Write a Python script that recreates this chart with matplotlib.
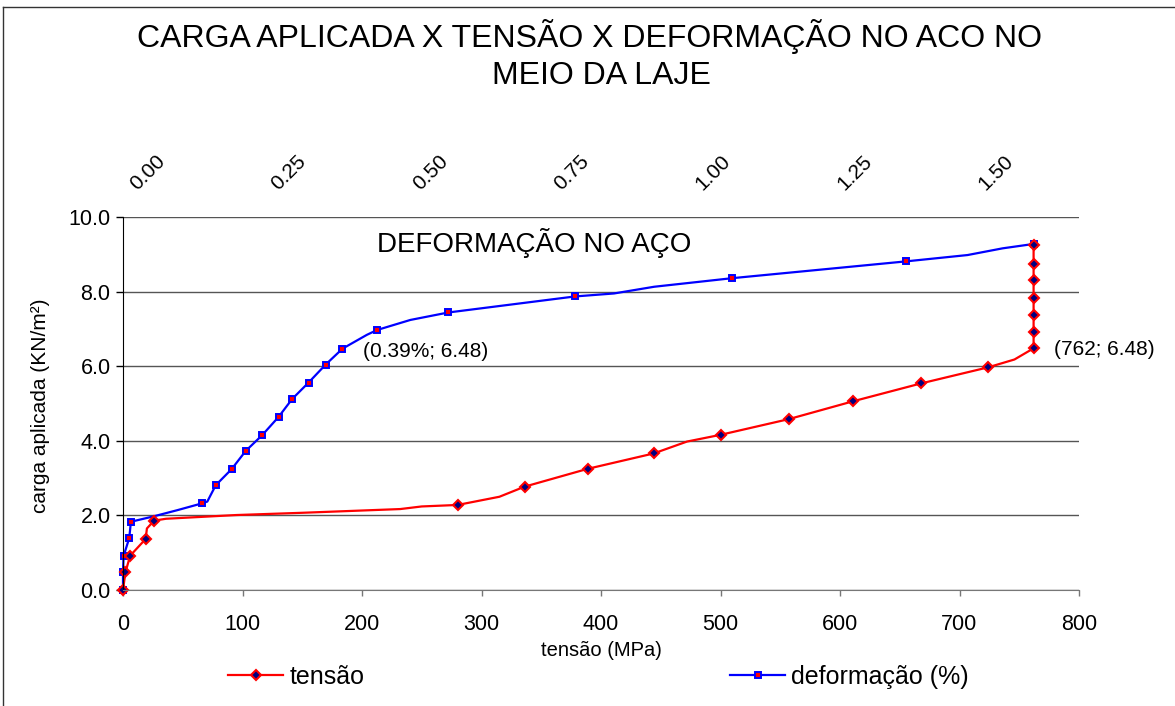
import matplotlib
matplotlib.use("Agg")
import matplotlib.pyplot as plt
from matplotlib.lines import Line2D
import numpy as np

plt.rcParams['font.family'] = ['Liberation Sans', 'DejaVu Sans']

# tensao (MPa) x carga aplicada (kN/m2) -- red series, markers only on measured points
tensao = [0, 2, 6, 19, 20, 26, 36, 95, 150, 232, 250, 280, 315, 336, 389, 444, 472,
          500, 557, 611, 668, 724, 746, 762, 762, 762, 762, 762, 762, 762]
carga_t = [0.00, 0.47, 0.92, 1.37, 1.65, 1.86, 1.91, 2.01, 2.07, 2.17, 2.24, 2.28, 2.50,
           2.77, 3.25, 3.66, 3.98, 4.16, 4.58, 5.06, 5.54, 5.97, 6.18, 6.48, 6.93, 7.36,
           7.84, 8.31, 8.75, 9.25]
tensao_marked = [0, 1, 2, 3, 5, 11, 13, 14, 15, 17, 18, 19, 20, 21, 23, 24, 25, 26, 27, 28, 29]

# deformacao (%) x carga aplicada -- blue series
deform = [0.000, 0.000, 0.001, 0.011, 0.014, 0.053, 0.096, 0.139, 0.149, 0.164, 0.192,
          0.217, 0.246, 0.275, 0.299, 0.328, 0.358, 0.388, 0.431, 0.449, 0.508, 0.575,
          0.799, 0.868, 0.939, 1.077, 1.384, 1.493, 1.555, 1.611]
carga_d = [0.00, 0.47, 0.91, 1.39, 1.83, 1.97, 2.14, 2.32, 2.37, 2.81, 3.24, 3.73, 4.15,
           4.64, 5.12, 5.56, 6.04, 6.47, 6.84, 6.97, 7.24, 7.44, 7.87, 7.95, 8.13, 8.36,
           8.81, 8.98, 9.16, 9.28]
deform_marked = [0, 1, 2, 3, 4, 7, 9, 10, 11, 12, 13, 14, 15, 16, 17, 19, 21, 22, 25, 26, 29]

x_ticks = [0, 100, 200, 300, 400, 500, 600, 700, 800]
y_ticks = [0, 2, 4, 6, 8, 10]
def_ticks = [0.00, 0.25, 0.50, 0.75, 1.00, 1.25, 1.50]

W, H = 1175, 706
fig = plt.figure(figsize=(W / 100, H / 100), dpi=100)
fig.patch.set_facecolor('white')
ax = fig.add_axes([123 / W, 1 - 590 / H, 956 / W, 373 / H])
ax2 = ax.twiny()

# blue series + grid underneath, red series on top
ax2.set_zorder(1)
ax.set_zorder(2)
ax.patch.set_visible(False)

ax2.plot(deform, carga_d, color='#0000FF', lw=1.6, marker='s', ms=4.8,
         mfc='#FF0000', mec='#0000FF', mew=1.4, markevery=deform_marked, clip_on=False)
ax.plot(tensao, carga_t, color='#FF0000', lw=1.6, marker='D', ms=5.2,
        mfc='#000080', mec='#FF0000', mew=1.5, markevery=tensao_marked, clip_on=False)

ax.set_xlim(0, 800)
ax.set_ylim(0, 10)
ax2.set_xlim(0, 1.69)
ax.set_xticks(x_ticks)
ax.set_yticks(y_ticks)
ax.set_yticklabels([f'{v:.1f}' for v in y_ticks])

ax2.yaxis.set_visible(True)
ax2.tick_params(axis='y', left=False, right=False, labelleft=False, labelright=False)
ax2.grid(axis='y', color='#555555', lw=1)
ax2.set_xticks([])
for s in ax2.spines.values():
    s.set_visible(False)

for s in ['top', 'right']:
    ax.spines[s].set_visible(False)
ax.spines['left'].set_color('black')
ax.spines['bottom'].set_color('#777777')
ax.tick_params(axis='y', direction='out', length=5, width=1, color='black',
               labelsize=15.5, pad=4)
ax.tick_params(axis='x', direction='out', length=4, width=1, color='#777777',
               labelsize=15.5, pad=13)

# top axis labels (deformacao)
for v in def_ticks:
    ax2.annotate(f'{v:.2f}', xy=(v, 1), xycoords=('data', 'axes fraction'),
                 xytext=(10, 19), textcoords='offset points', rotation=45,
                 rotation_mode='anchor', ha='left', va='baseline', fontsize=15,
                 annotation_clip=False)

ax.set_ylabel('carga aplicada (KN/m²)', fontsize=15)
ax.yaxis.set_label_coords(-0.076, 0.493)
ax.set_xlabel('tensão (MPa)', fontsize=14.5)
ax.xaxis.set_label_coords(0.5, -0.136)

ax.text(0.2657, 0.906, 'DEFORMAÇÃO NO AÇO', transform=ax.transAxes,
        fontsize=20, va='baseline')
ax2.annotate('(0.39%; 6.48)', xy=(0.388, 6.47), xytext=(15, -6),
             textcoords='offset points', fontsize=15, va='baseline')
ax.annotate('(762; 6.48)', xy=(762, 6.48), xytext=(15, -5),
            textcoords='offset points', fontsize=15, va='baseline',
            annotation_clip=False)

fig.text(590 / W, 1 - 47 / H, 'CARGA APLICADA X TENSÃO X DEFORMAÇÃO NO ACO NO',
         ha='center', va='baseline', fontsize=23)
fig.text(601 / W, 1 - 84 / H, 'MEIO DA LAJE', ha='center', va='baseline', fontsize=23)

h_t = Line2D([], [], color='#FF0000', lw=1.6, marker='D', ms=5.2,
             mfc='#000080', mec='#FF0000', mew=1.5)
h_d = Line2D([], [], color='#0000FF', lw=1.6, marker='s', ms=4.8,
             mfc='#FF0000', mec='#0000FF', mew=1.4)
fig.legend(handles=[h_t], labels=['tensão'], loc='center left',
           bbox_to_anchor=(228 / W, 1 - 677 / H), frameon=False, fontsize=18,
           handlelength=2.2, handletextpad=0.25, borderpad=0, borderaxespad=0)
fig.legend(handles=[h_d], labels=['deformação (%)'], loc='center left',
           bbox_to_anchor=(730 / W, 1 - 677 / H), frameon=False, fontsize=18,
           handlelength=2.2, handletextpad=0.25, borderpad=0, borderaxespad=0)

# chart frame (left and top edges only, as in the cropped original)
fig.add_artist(Line2D([3 / W, 3 / W], [0, 1 - 7 / H], transform=fig.transFigure,
                      color='#333333', lw=1))
fig.add_artist(Line2D([3 / W, 1], [1 - 7 / H, 1 - 7 / H], transform=fig.transFigure,
                      color='#333333', lw=1))

fig.savefig('out.png', dpi=100, facecolor='white')
